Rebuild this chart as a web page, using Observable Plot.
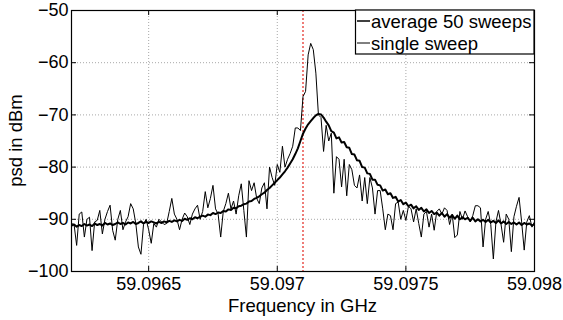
<!DOCTYPE html>
<html><head><meta charset="utf-8">
<script src="https://cdn.jsdelivr.net/npm/d3@7"></script>
<script src="https://cdn.jsdelivr.net/npm/@observablehq/plot@0.6"></script>
<style>body{margin:0;background:#fff;} svg{font-family:"Liberation Sans",Arial,sans-serif;}</style>
</head><body><div id="chart"></div>
<script>
const freqGHz = [
59.09620,59.09621,59.09622,59.09623,59.09624,59.09625,59.09626,59.09627,59.09628,59.09629,
59.09630,59.09631,59.09632,59.09633,59.09634,59.09635,59.09636,59.09637,59.09638,59.09639,
59.09640,59.09641,59.09642,59.09643,59.09644,59.09645,59.09646,59.09647,59.09648,59.09649,
59.09650,59.09651,59.09652,59.09653,59.09654,59.09655,59.09656,59.09657,59.09658,59.09659,
59.09660,59.09661,59.09662,59.09663,59.09664,59.09665,59.09666,59.09667,59.09668,59.09669,
59.09670,59.09671,59.09672,59.09673,59.09674,59.09675,59.09676,59.09677,59.09678,59.09679,
59.09680,59.09681,59.09682,59.09683,59.09684,59.09685,59.09686,59.09687,59.09688,59.09689,
59.09690,59.09691,59.09692,59.09693,59.09694,59.09695,59.09696,59.09697,59.09698,59.09699,
59.09700,59.09701,59.09702,59.09703,59.09704,59.09705,59.09706,59.09707,59.09708,59.09709,
59.09710,59.09711,59.09712,59.09713,59.09714,59.09715,59.09716,59.09717,59.09718,59.09719,
59.09720,59.09721,59.09722,59.09723,59.09724,59.09725,59.09726,59.09727,59.09728,59.09729,
59.09730,59.09731,59.09732,59.09733,59.09734,59.09735,59.09736,59.09737,59.09738,59.09739,
59.09740,59.09741,59.09742,59.09743,59.09744,59.09745,59.09746,59.09747,59.09748,59.09749,
59.09750,59.09751,59.09752,59.09753,59.09754,59.09755,59.09756,59.09757,59.09758,59.09759,
59.09760,59.09761,59.09762,59.09763,59.09764,59.09765,59.09766,59.09767,59.09768,59.09769,
59.09770,59.09771,59.09772,59.09773,59.09774,59.09775,59.09776,59.09777,59.09778,59.09779,
59.09780,59.09781,59.09782,59.09783,59.09784,59.09785,59.09786,59.09787,59.09788,59.09789,
59.09790,59.09791,59.09792,59.09793,59.09794,59.09795,59.09796,59.09797,59.09798,59.09799,
59.09800];

const avg50 = [
-91.2,-91.0,-91.4,-91.1,-91.3,-90.9,-91.2,-91.0,-91.3,-90.8,
-91.1,-90.9,-91.2,-90.7,-91.0,-90.8,-91.1,-90.9,-90.6,-90.9,
-90.7,-91.0,-90.6,-90.8,-90.5,-90.9,-90.7,-90.4,-90.8,-90.5,
-90.7,-90.4,-90.6,-90.8,-90.5,-90.7,-90.4,-90.6,-90.3,-90.5,
-90.2,-90.4,-90.1,-90.3,-89.9,-90.1,-89.8,-90.0,-89.6,-89.8,
-89.5,-89.3,-89.5,-89.1,-89.2,-88.8,-89.0,-88.7,-88.8,-88.4,
-88.5,-88.1,-88.2,-87.8,-87.9,-87.5,-87.4,-87.1,-87.0,-86.6,
-86.5,-86.1,-85.9,-85.6,-85.2,-84.9,-84.4,-84.0,-83.5,-83.0,
-82.5,-82.0,-81.4,-80.8,-80.1,-79.3,-78.5,-77.5,-76.4,-75.0,
-73.6,-72.6,-71.8,-71.2,-70.6,-70.1,-69.8,-69.9,-70.5,-71.3,
-72.0,-73.1,-73.4,-74.5,-74.3,-75.3,-75.2,-76.2,-76.3,-77.5,
-77.6,-78.7,-78.8,-80.0,-80.1,-81.2,-81.3,-82.4,-82.4,-83.4,
-83.5,-84.5,-84.3,-85.2,-85.0,-85.9,-85.7,-86.6,-86.3,-87.1,
-86.8,-87.5,-87.2,-87.9,-87.5,-88.2,-87.8,-88.5,-88.1,-88.8,
-88.4,-89.0,-88.7,-89.3,-88.8,-89.5,-89.0,-89.7,-89.2,-89.9,
-89.3,-90.0,-89.6,-90.0,-89.7,-90.3,-89.7,-90.4,-90.0,-90.4,
-90.1,-90.5,-90.1,-90.6,-90.3,-90.7,-90.2,-90.8,-90.4,-90.9,
-90.5,-90.9,-90.6,-91.0,-90.6,-91.1,-90.7,-91.0,-90.8,-91.2,
-90.9];

const singleSweep = [
-90.8,-91,-95,-89,-88.6,-93.4,-90,-89.6,-96,-90.5,
-90.2,-88.3,-92.8,-90,-88.5,-87.3,-92.1,-94,-90,-88.3,
-92,-90.5,-89.5,-87,-88,-90.8,-95.3,-96.7,-91,-90,
-92,-94.6,-90.8,-91.5,-90,-90.5,-91,-90.8,-88.5,-86,
-89,-90,-92,-90,-88.8,-89.5,-91,-89,-88,-87.3,
-90,-88.5,-84.7,-87.8,-86,-83.5,-88,-89,-93.4,-88.5,
-87,-85,-88,-86.5,-89,-85.5,-83.2,-88.3,-93.4,-82.6,
-84.5,-83,-86,-87,-84,-83,-88,-80,-82,-83.5,
-79.5,-81,-76,-80,-78.5,-77.4,-76,-72.5,-72.5,-73,
-66.5,-65.5,-58.5,-56.3,-57.5,-62,-70,-70.5,-77,-72,
-75,-73.5,-85,-78,-78.5,-83.8,-78.5,-85.5,-79.5,-80.5,
-83.5,-84,-81.5,-86.5,-82,-87,-82,-84,-89,-84.5,
-84.5,-88,-92,-89,-89.3,-92,-87,-86.7,-90,-88.3,
-90.2,-87.5,-88,-90.5,-88,-90.8,-93.4,-89,-88.5,-91.5,
-89,-92.1,-88.5,-88,-89,-87.8,-88.3,-91,-89,-93.5,
-93,-88.5,-90,-88.4,-89.5,-90.5,-89.3,-87.4,-87.4,-87.8,
-95.3,-90,-88.5,-91,-97.6,-90.5,-88.3,-91,-94.4,-89,
-90,-96.2,-89.5,-87.5,-85.8,-90.5,-95.9,-90.5,-89.3,-91.5,
-90.5];

const xTicks = [59.0965, 59.097, 59.0975, 59.098];
const xTickLabels = ["59.0965", "59.097", "59.0975", "59.098"];
const yTicks = [-100, -90, -80, -70, -60, -50];
const yTickLabels = ["\u2212100", "\u221290", "\u221280", "\u221270", "\u221260", "\u221250"];
const markerFreq = [59.0971];
const seriesNames = ["average 50 sweeps", "single sweep"];
const xTitle = "Frequency in GHz";
const yTitle = "psd in dBm";

const W = 563, H = 320, mL = 71, mR = 29, mT = 10, mB = 49;
const innerW = W - mL - mR, innerH = H - mT - mB;
const avgData = freqGHz.map((f, i) => ({f, v: avg50[i]}));
const singleData = freqGHz.map((f, i) => ({f, v: singleSweep[i]}));

const plot = Plot.plot({
  width: W, height: H,
  marginLeft: mL, marginRight: mR, marginTop: mT, marginBottom: mB,
  style: {fontFamily: "'Liberation Sans', Arial, sans-serif", fontSize: "18px", background: "#fff", color: "#000"},
  x: {domain: [59.0962, 59.098]},
  y: {domain: [-100, -50]},
  marks: [
    Plot.gridX(xTicks.slice(0, 3), {stroke: "#a8a8a8", strokeOpacity: 1, strokeDasharray: "1,2"}),
    Plot.gridY(yTicks.slice(1, 5), {stroke: "#a8a8a8", strokeOpacity: 1, strokeDasharray: "1,2"}),
    Plot.ruleX(xTicks, {insetTop: innerH - 5, stroke: "#000"}),
    Plot.ruleX(xTicks, {insetBottom: innerH - 5, stroke: "#000"}),
    Plot.ruleY(yTicks, {insetLeft: innerW - 5, stroke: "#000"}),
    Plot.ruleY(yTicks, {insetRight: innerW - 5, stroke: "#000"}),
    Plot.ruleX(markerFreq, {stroke: "#e3261f", strokeDasharray: "2,2", strokeWidth: 1.2}),
    Plot.line(singleData, {x: "f", y: "v", stroke: "#000", strokeWidth: 1, clip: true}),
    Plot.line(avgData, {x: "f", y: "v", stroke: "#000", strokeWidth: 2, clip: true}),
    Plot.frame({stroke: "#000", strokeWidth: 1.2}),
    Plot.axisX(xTicks, {tickSize: 0, tickPadding: 6, fontSize: 18, label: null,
      tickFormat: d => xTickLabels[xTicks.indexOf(d)]}),
    Plot.axisY(yTicks, {tickSize: 0, tickPadding: 3, fontSize: 18, label: null,
      tickFormat: d => yTickLabels[yTicks.indexOf(d)]})
  ]
});
document.getElementById("chart").appendChild(plot);

const svg = d3.select(plot);
svg.append("text").attr("x", mL + innerW / 2).attr("y", 312)
  .attr("text-anchor", "middle").attr("font-size", 18.5).attr("fill", "#000").text(xTitle);
svg.append("text").attr("transform", `translate(22,${mT + innerH / 2}) rotate(-90)`)
  .attr("text-anchor", "middle").attr("font-size", 18.5).attr("fill", "#000").text(yTitle);

const lg = svg.append("g");
lg.append("rect").attr("x", 355.5).attr("y", 10).attr("width", 178.5).attr("height", 44)
  .attr("fill", "#fff").attr("stroke", "#000").attr("stroke-width", 1.2);
const rowsY = [21, 43];
seriesNames.forEach((name, i) => {
  lg.append("line").attr("x1", 357).attr("x2", 370).attr("y1", rowsY[i]).attr("y2", rowsY[i])
    .attr("stroke", "#000").attr("stroke-width", i === 0 ? 1.5 : 1);
  lg.append("text").attr("x", 371).attr("y", rowsY[i] + 6.5).attr("font-size", 18.5)
    .attr("text-anchor", "start").attr("fill", "#000").text(name);
});
</script>
</body></html>
